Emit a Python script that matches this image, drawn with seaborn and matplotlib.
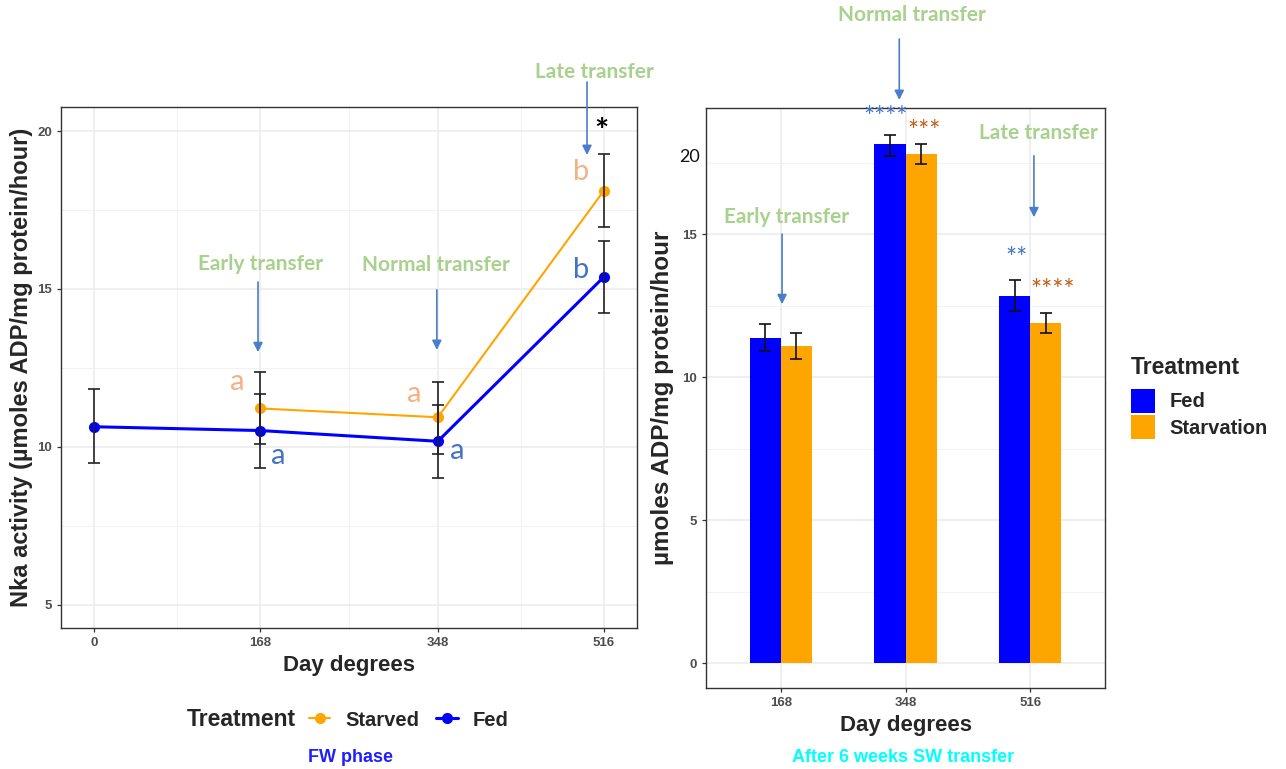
import numpy as np
import pandas as pd
import matplotlib
matplotlib.use("Agg")
import matplotlib.pyplot as plt
import seaborn as sns
from matplotlib.lines import Line2D
from matplotlib.patches import Patch
from matplotlib.ticker import FixedLocator

# ---------------- data ----------------
# FW phase (left panel)
fw_days_fed = [0, 168, 348, 516]
fw_fed = [10.64, 10.52, 10.18, 15.38]
fw_fed_lo = [9.50, 9.34, 9.03, 14.23]
fw_fed_hi = [11.83, 11.68, 11.34, 16.51]
fw_days_starved = [168, 348, 516]
fw_starved = [11.22, 10.94, 18.11]
fw_starved_lo = [10.09, 9.78, 16.96]
fw_starved_hi = [12.38, 12.07, 19.27]
fw_ticks = [0, 168, 348, 516]

# After 6 weeks SW transfer (right panel)
sw_days = ["168", "348", "516"]
sw_fed = [11.37, 18.14, 12.83]
sw_fed_lo = [10.92, 17.73, 12.30]
sw_fed_hi = [11.85, 18.47, 13.39]
sw_starv = [11.09, 17.81, 11.90]
sw_starv_lo = [10.65, 17.44, 11.55]
sw_starv_hi = [11.53, 18.15, 12.25]

BLUE = "#0000FF"
ORANGE = "#FFA500"
GREEN = "#A9D18E"
ARROW = "#4A7EC9"
SALMON = "#F4B183"
LBLUE = "#4472C4"
BROWN = "#C55A11"

sns.set_style("white")
plt.rcParams["font.family"] = ["Liberation Sans", "DejaVu Sans"]
NARROW = ["Liberation Sans Narrow", "Liberation Sans", "DejaVu Sans"]
CAL = ["Lato", "DejaVu Sans"]

W, H = 1286, 769
fig = plt.figure(figsize=(W / 100, H / 100), dpi=100)


def px_axes(l, t, r, b):
    return fig.add_axes([l / W, 1 - b / H, (r - l) / W, (b - t) / H])


def style_axes(ax):
    for s in ax.spines.values():
        s.set_color("#333333")
        s.set_linewidth(1.0)
    ax.tick_params(axis="both", which="major", length=3, width=0.9, color="#333333",
                   labelcolor="#4D4D4D", labelsize=9.5, direction="out", left=True, bottom=True)
    ax.tick_params(axis="both", which="minor", length=0)
    for lab in ax.get_xticklabels() + ax.get_yticklabels():
        lab.set_family(NARROW)
        lab.set_fontweight("bold")
    ax.grid(True, which="major", color="#EBEBEB", lw=1.1)
    ax.grid(True, which="minor", color="#F2F2F2", lw=0.7)
    ax.set_axisbelow(True)


# ---------------- left panel ----------------
ax1 = px_axes(61, 107, 637, 628)
df_left = pd.DataFrame({
    "day": fw_days_starved + fw_days_fed,
    "value": fw_starved + fw_fed,
    "Treatment": ["Starved"] * len(fw_days_starved) + ["Fed"] * len(fw_days_fed),
})
sns.lineplot(data=df_left, x="day", y="value", hue="Treatment", size="Treatment",
             hue_order=["Starved", "Fed"], palette={"Starved": ORANGE, "Fed": BLUE},
             sizes={"Starved": 1.5, "Fed": 2.2}, marker="o", markersize=8,
             markeredgewidth=0, legend=False, ax=ax1, zorder=3)
for d, v, lo, hi in [(fw_days_fed, fw_fed, fw_fed_lo, fw_fed_hi),
                     (fw_days_starved, fw_starved, fw_starved_lo, fw_starved_hi)]:
    v = np.array(v)
    ax1.errorbar(d, v, yerr=[v - np.array(lo), np.array(hi) - v], fmt="none",
                 ecolor="#222222", elinewidth=1.2, capsize=4.3, capthick=1.2, zorder=4)

ax1.set_xlim(-33.4, 549.6)
ax1.set_ylim(4.27, 20.76)
ax1.xaxis.set_major_locator(FixedLocator(fw_ticks))
ax1.xaxis.set_minor_locator(FixedLocator([84, 258, 432]))
ax1.yaxis.set_major_locator(FixedLocator([5, 10, 15, 20]))
ax1.yaxis.set_minor_locator(FixedLocator([7.5, 12.5, 17.5]))
ax1.set_xlabel("Day degrees", fontsize=16, fontweight="bold", labelpad=4)
ax1.set_ylabel("Nka activity (µmoles ADP/mg protein/hour)", fontsize=17,
               fontweight="bold", labelpad=3)
style_axes(ax1)

# significance letters
letters = [("b", 493, 18.7, SALMON), ("b", 493, 15.6, LBLUE),
           ("a", 145, 12.05, SALMON), ("a", 324, 11.68, SALMON),
           ("a", 186, 9.72, LBLUE), ("a", 368, 9.86, LBLUE)]
for t, x, y, c in letters:
    ax1.text(x, y, t, color=c, fontsize=21, family=CAL, ha="center", va="center", zorder=5)
ax1.text(514, 19.95, "*", color="black", fontsize=24, family=CAL, fontweight="bold",
         ha="center", va="center", zorder=5)

# transfer annotations (left)
arrow_kw = dict(arrowstyle="-|>", color=ARROW, lw=1.2, mutation_scale=14, shrinkA=0, shrinkB=0)
for txt, tx, ty, ax_x, y0, y1 in [("Early transfer", 169, 15.78, 166, 15.22, 13.0),
                                   ("Normal transfer", 346, 15.75, 347, 14.97, 13.07),
                                   ("Late transfer", 507, 21.86, 499, 21.55, 19.24)]:
    ax1.text(tx, ty, txt, color=GREEN, fontsize=15, fontweight="bold", family=CAL,
             ha="center", va="center", clip_on=False)
    ax1.annotate("", xy=(ax_x, y1), xytext=(ax_x, y0), arrowprops=arrow_kw,
                 annotation_clip=False)

# legend (bottom, horizontal)
fig.text(187 / W, 1 - 720 / H, "Treatment", fontsize=16.5, fontweight="bold",
         ha="left", va="center")
h_left = [Line2D([], [], color=ORANGE, lw=1.5, marker="o", markersize=7),
          Line2D([], [], color=BLUE, lw=2.2, marker="o", markersize=7)]
fig.legend(h_left, ["Starved", "Fed"], ncol=2, loc="center left",
           bbox_to_anchor=(309 / W, 1 - 720 / H), frameon=False,
           prop={"weight": "bold", "size": 14.5}, handlelength=1.05, handletextpad=0.75,
           columnspacing=0.85, borderaxespad=0, borderpad=0)
fig.text(350 / W, 1 - 757 / H, "FW phase", fontsize=13, fontweight="bold",
         color="#1E1EFF", ha="center", va="center")

# ---------------- right panel ----------------
ax2 = px_axes(706, 108, 1105, 688)
df_right = pd.DataFrame({
    "day": sw_days * 2,
    "value": sw_fed + sw_starv,
    "Treatment": ["Fed"] * len(sw_days) + ["Starvation"] * len(sw_days),
})
sns.barplot(data=df_right, x="day", y="value", hue="Treatment", order=sw_days,
            hue_order=["Fed", "Starvation"], palette={"Fed": BLUE, "Starvation": ORANGE},
            width=0.5, saturation=1, errorbar=None, ax=ax2, legend=False,
            edgecolor="none", linewidth=0)
for cont, v, lo, hi in [(ax2.containers[0], sw_fed, sw_fed_lo, sw_fed_hi),
                        (ax2.containers[1], sw_starv, sw_starv_lo, sw_starv_hi)]:
    xs = [p.get_x() + p.get_width() / 2 for p in cont.patches]
    v = np.array(v)
    ax2.errorbar(xs, v, yerr=[v - np.array(lo), np.array(hi) - v], fmt="none",
                 ecolor="#111111", elinewidth=1.2, capsize=4.3, capthick=1.2, zorder=4)

ax2.set_xlim(-0.6, 2.6)
ax2.set_ylim(-0.87, 19.41)
ax2.yaxis.set_major_locator(FixedLocator([0, 5, 10, 15]))
ax2.yaxis.set_minor_locator(FixedLocator([2.5, 7.5, 12.5, 17.5]))
ax2.set_xlabel("Day degrees", fontsize=16, fontweight="bold", labelpad=4)
ax2.set_ylabel("µmoles ADP/mg protein/hour", fontsize=17.5, fontweight="bold", labelpad=6)
style_axes(ax2)
ax2.grid(False, axis="x", which="minor")

# overlaid "20" label as in the reference
ax2.text(-0.73, 17.69, "20", fontsize=13, color="#111111", family=CAL, ha="center",
         va="center", clip_on=False)

# significance stars (right)
for t, x, y, c in [("****", 0.84, 19.05, LBLUE), ("***", 1.15, 18.55, BROWN),
                   ("**", 1.89, 14.1, LBLUE), ("****", 2.18, 13.0, BROWN)]:
    ax2.text(x, y, t, color=c, fontsize=19, family=CAL, ha="center", va="center",
             clip_on=False, zorder=5)

for txt, tx, ty, ax_x, y0, y1 in [("Early transfer", 0.05, 15.6, 0.01, 15.0, 12.55),
                                   ("Normal transfer", 1.05, 22.66, 0.95, 21.82, 19.69),
                                   ("Late transfer", 2.07, 18.53, 2.03, 17.74, 15.59)]:
    ax2.text(tx, ty, txt, color=GREEN, fontsize=15, fontweight="bold", family=CAL,
             ha="center", va="center", clip_on=False)
    ax2.annotate("", xy=(ax_x, y1), xytext=(ax_x, y0), arrowprops=arrow_kw,
                 annotation_clip=False)

h_right = [Patch(facecolor=BLUE, edgecolor="none"), Patch(facecolor=ORANGE, edgecolor="none")]
leg2 = fig.legend(h_right, ["Fed", "Starvation"], loc="upper left",
                  bbox_to_anchor=(1131 / W, 1 - 356 / H), frameon=False,
                  title="Treatment", title_fontproperties={"weight": "bold", "size": 16.5},
                  prop={"weight": "bold", "size": 14.5}, handlelength=1.2, handleheight=1.45,
                  handletextpad=0.7, labelspacing=0.12, borderaxespad=0, borderpad=0)
leg2._legend_box.align = "left"
leg2._legend_box.sep = 7

fig.text(903 / W, 1 - 757 / H, "After 6 weeks SW transfer", fontsize=13,
         fontweight="bold", color="#00FFFF", ha="center", va="center")

fig.savefig("out.png", dpi=100, facecolor="white")
